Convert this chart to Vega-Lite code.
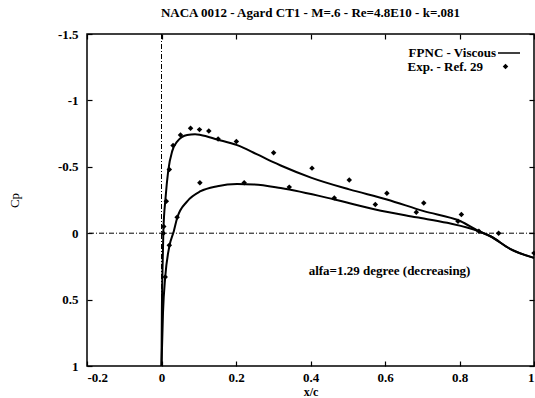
{
  "$schema": "https://vega.github.io/schema/vega-lite/v6.json",
  "autosize": "none",
  "width": 447,
  "height": 332,
  "padding": {"left": 87, "top": 34, "right": 1, "bottom": 32},
  "background": "white",
  "config": {
    "view": {"stroke": "black", "strokeWidth": 1.5},
    "font": "Liberation Serif",
    "axis": {"grid": false, "domain": false, "tickColor": "black", "tickSize": -5, "tickWidth": 1.2,
             "labelFont": "Liberation Serif", "labelFontSize": 13, "labelFontWeight": "bold", "labelColor": "black",
             "titleFont": "Liberation Serif", "titleColor": "black"},
    "legend": {"padding": 0, "labelFont": "Liberation Serif", "labelFontSize": 13, "labelFontWeight": "bold", "labelColor": "black", "labelAlign": "right", "rowPadding": 0}
  },
  "title": {"text": "NACA 0012 - Agard CT1 - M=.6 - Re=4.8E10 - k=.081", "font": "Liberation Serif", "fontSize": 13, "fontWeight": "bold", "color": "black", "offset": 8},
  "datasets": {
    "curves": [
      {"series": "FPNC - Viscous", "curve": "upper", "x": 0.0, "cp": 1.0},
      {"series": "FPNC - Viscous", "curve": "upper", "x": 0.001, "cp": 0.6},
      {"series": "FPNC - Viscous", "curve": "upper", "x": 0.003, "cp": 0.24},
      {"series": "FPNC - Viscous", "curve": "upper", "x": 0.005, "cp": -0.015},
      {"series": "FPNC - Viscous", "curve": "upper", "x": 0.011, "cp": -0.27},
      {"series": "FPNC - Viscous", "curve": "upper", "x": 0.018, "cp": -0.47},
      {"series": "FPNC - Viscous", "curve": "upper", "x": 0.029, "cp": -0.62},
      {"series": "FPNC - Viscous", "curve": "upper", "x": 0.042, "cp": -0.69},
      {"series": "FPNC - Viscous", "curve": "upper", "x": 0.069, "cp": -0.74},
      {"series": "FPNC - Viscous", "curve": "upper", "x": 0.09, "cp": -0.745},
      {"series": "FPNC - Viscous", "curve": "upper", "x": 0.105, "cp": -0.74},
      {"series": "FPNC - Viscous", "curve": "upper", "x": 0.15, "cp": -0.706},
      {"series": "FPNC - Viscous", "curve": "upper", "x": 0.203, "cp": -0.663},
      {"series": "FPNC - Viscous", "curve": "upper", "x": 0.257, "cp": -0.593},
      {"series": "FPNC - Viscous", "curve": "upper", "x": 0.3, "cp": -0.535},
      {"series": "FPNC - Viscous", "curve": "upper", "x": 0.32, "cp": -0.51},
      {"series": "FPNC - Viscous", "curve": "upper", "x": 0.403, "cp": -0.417},
      {"series": "FPNC - Viscous", "curve": "upper", "x": 0.504, "cp": -0.33},
      {"series": "FPNC - Viscous", "curve": "upper", "x": 0.605, "cp": -0.254},
      {"series": "FPNC - Viscous", "curve": "upper", "x": 0.704, "cp": -0.166},
      {"series": "FPNC - Viscous", "curve": "upper", "x": 0.803, "cp": -0.09},
      {"series": "FPNC - Viscous", "curve": "upper", "x": 0.852, "cp": -0.015},
      {"series": "FPNC - Viscous", "curve": "upper", "x": 0.883, "cp": 0.023},
      {"series": "FPNC - Viscous", "curve": "upper", "x": 0.937, "cp": 0.12},
      {"series": "FPNC - Viscous", "curve": "upper", "x": 1.0, "cp": 0.186},
      {"series": "FPNC - Viscous", "curve": "lower", "x": 0.0, "cp": 1.0},
      {"series": "FPNC - Viscous", "curve": "lower", "x": 0.004, "cp": 0.6},
      {"series": "FPNC - Viscous", "curve": "lower", "x": 0.01, "cp": 0.33},
      {"series": "FPNC - Viscous", "curve": "lower", "x": 0.021, "cp": 0.1},
      {"series": "FPNC - Viscous", "curve": "lower", "x": 0.033, "cp": -0.015},
      {"series": "FPNC - Viscous", "curve": "lower", "x": 0.042, "cp": -0.115},
      {"series": "FPNC - Viscous", "curve": "lower", "x": 0.069, "cp": -0.24},
      {"series": "FPNC - Viscous", "curve": "lower", "x": 0.105, "cp": -0.316},
      {"series": "FPNC - Viscous", "curve": "lower", "x": 0.15, "cp": -0.354},
      {"series": "FPNC - Viscous", "curve": "lower", "x": 0.203, "cp": -0.37},
      {"series": "FPNC - Viscous", "curve": "lower", "x": 0.248, "cp": -0.367},
      {"series": "FPNC - Viscous", "curve": "lower", "x": 0.32, "cp": -0.34},
      {"series": "FPNC - Viscous", "curve": "lower", "x": 0.464, "cp": -0.254},
      {"series": "FPNC - Viscous", "curve": "lower", "x": 0.574, "cp": -0.178},
      {"series": "FPNC - Viscous", "curve": "lower", "x": 0.684, "cp": -0.12},
      {"series": "FPNC - Viscous", "curve": "lower", "x": 0.767, "cp": -0.078},
      {"series": "FPNC - Viscous", "curve": "lower", "x": 0.852, "cp": -0.015},
      {"series": "FPNC - Viscous", "curve": "lower", "x": 0.883, "cp": 0.023},
      {"series": "FPNC - Viscous", "curve": "lower", "x": 0.937, "cp": 0.12},
      {"series": "FPNC - Viscous", "curve": "lower", "x": 1.0, "cp": 0.186}
    ],
    "exp": [
      {"series": "Exp. - Ref. 29", "x": 0.005, "cp": 0.0},
      {"series": "Exp. - Ref. 29", "x": 0.006, "cp": -0.05},
      {"series": "Exp. - Ref. 29", "x": 0.013, "cp": -0.24},
      {"series": "Exp. - Ref. 29", "x": 0.021, "cp": -0.48},
      {"series": "Exp. - Ref. 29", "x": 0.031, "cp": -0.66},
      {"series": "Exp. - Ref. 29", "x": 0.051, "cp": -0.74},
      {"series": "Exp. - Ref. 29", "x": 0.078, "cp": -0.79},
      {"series": "Exp. - Ref. 29", "x": 0.102, "cp": -0.78},
      {"series": "Exp. - Ref. 29", "x": 0.127, "cp": -0.77},
      {"series": "Exp. - Ref. 29", "x": 0.152, "cp": -0.71},
      {"series": "Exp. - Ref. 29", "x": 0.201, "cp": -0.69},
      {"series": "Exp. - Ref. 29", "x": 0.301, "cp": -0.605},
      {"series": "Exp. - Ref. 29", "x": 0.404, "cp": -0.49},
      {"series": "Exp. - Ref. 29", "x": 0.504, "cp": -0.4},
      {"series": "Exp. - Ref. 29", "x": 0.605, "cp": -0.3},
      {"series": "Exp. - Ref. 29", "x": 0.704, "cp": -0.228},
      {"series": "Exp. - Ref. 29", "x": 0.805, "cp": -0.14},
      {"series": "Exp. - Ref. 29", "x": 0.905, "cp": 0.0},
      {"series": "Exp. - Ref. 29", "x": 1.0, "cp": 0.15},
      {"series": "Exp. - Ref. 29", "x": 0.01, "cp": 0.33},
      {"series": "Exp. - Ref. 29", "x": 0.021, "cp": 0.09},
      {"series": "Exp. - Ref. 29", "x": 0.042, "cp": -0.12},
      {"series": "Exp. - Ref. 29", "x": 0.103, "cp": -0.38},
      {"series": "Exp. - Ref. 29", "x": 0.222, "cp": -0.38},
      {"series": "Exp. - Ref. 29", "x": 0.343, "cp": -0.347},
      {"series": "Exp. - Ref. 29", "x": 0.464, "cp": -0.266},
      {"series": "Exp. - Ref. 29", "x": 0.574, "cp": -0.216},
      {"series": "Exp. - Ref. 29", "x": 0.684, "cp": -0.158},
      {"series": "Exp. - Ref. 29", "x": 0.796, "cp": -0.09},
      {"series": "Exp. - Ref. 29", "x": 0.852, "cp": -0.015}
    ]
  },
  "resolve": {"axis": {"x": "independent", "y": "independent"}, "legend": {"color": "independent", "shape": "independent"}},
  "layer": [
    {
      "data": {"values": [{}]},
      "mark": {"type": "rule", "color": "black", "strokeWidth": 1, "strokeDash": [5, 2, 1, 2]},
      "encoding": {"x": {"datum": 0, "type": "quantitative", "axis": null}}
    },
    {
      "data": {"values": [{}]},
      "mark": {"type": "rule", "color": "black", "strokeWidth": 1, "strokeDash": [5, 2, 1, 2]},
      "encoding": {"y": {"datum": 0, "type": "quantitative", "axis": null}}
    },
    {
      "data": {"name": "curves"},
      "mark": {"type": "line", "strokeWidth": 2, "interpolate": "monotone"},
      "encoding": {
        "x": {"field": "x", "type": "quantitative",
              "scale": {"domain": [-0.2, 1], "nice": false, "zero": false},
              "axis": {"orient": "bottom", "values": [-0.2, 0, 0.2, 0.4, 0.6, 0.8, 1], "labelExpr": "toString(datum.value)", "labelPadding": 10, "title": "x/c", "titleFontSize": 12, "titleFontWeight": "bold", "titlePadding": 2}},
        "y": {"field": "cp", "type": "quantitative",
              "scale": {"domain": [-1.5, 1], "reverse": true, "nice": false, "zero": false},
              "axis": {"orient": "left", "values": [-1.5, -1, -0.5, 0, 0.5, 1], "labelExpr": "toString(datum.value)", "labelPadding": 14, "title": "Cp", "titleFontSize": 13, "titleFontWeight": "normal", "titlePadding": 36}},
        "color": {"field": "series", "type": "nominal", "scale": {"range": ["black"]},
                  "legend": {"title": null, "orient": "none", "legendX": 410, "legendY": 7, "symbolType": "stroke", "symbolSize": 484, "symbolStrokeWidth": 1.5, "labelOffset": -25}},
        "detail": {"field": "curve"}
      }
    },
    {
      "data": {"name": "exp"},
      "mark": {"type": "point", "filled": true, "color": "black", "opacity": 1, "size": 30, "shape": "diamond"},
      "encoding": {
        "x": {"field": "x", "type": "quantitative",
              "axis": {"orient": "top", "values": [-0.2, 0, 0.2, 0.4, 0.6, 0.8, 1], "labels": false, "title": null}},
        "y": {"field": "cp", "type": "quantitative",
              "axis": {"orient": "right", "values": [-1.5, -1, -0.5, 0, 0.5, 1], "labels": false, "title": null}},
        "shape": {"field": "series", "type": "nominal", "scale": {"range": ["diamond"]},
                  "legend": {"title": null, "orient": "none", "legendX": 412, "legendY": 26, "symbolSize": 30, "symbolFillColor": "black", "labelOffset": -29}}
      }
    },
    {
      "data": {"values": [{}]},
      "mark": {"type": "text", "align": "left", "baseline": "middle", "font": "Liberation Serif", "fontSize": 13, "fontWeight": "bold", "color": "black"},
      "encoding": {
        "x": {"datum": 0.395, "type": "quantitative", "axis": null},
        "y": {"datum": 0.286, "type": "quantitative", "axis": null},
        "text": {"value": "alfa=1.29 degree (decreasing)"}
      }
    }
  ]
}
